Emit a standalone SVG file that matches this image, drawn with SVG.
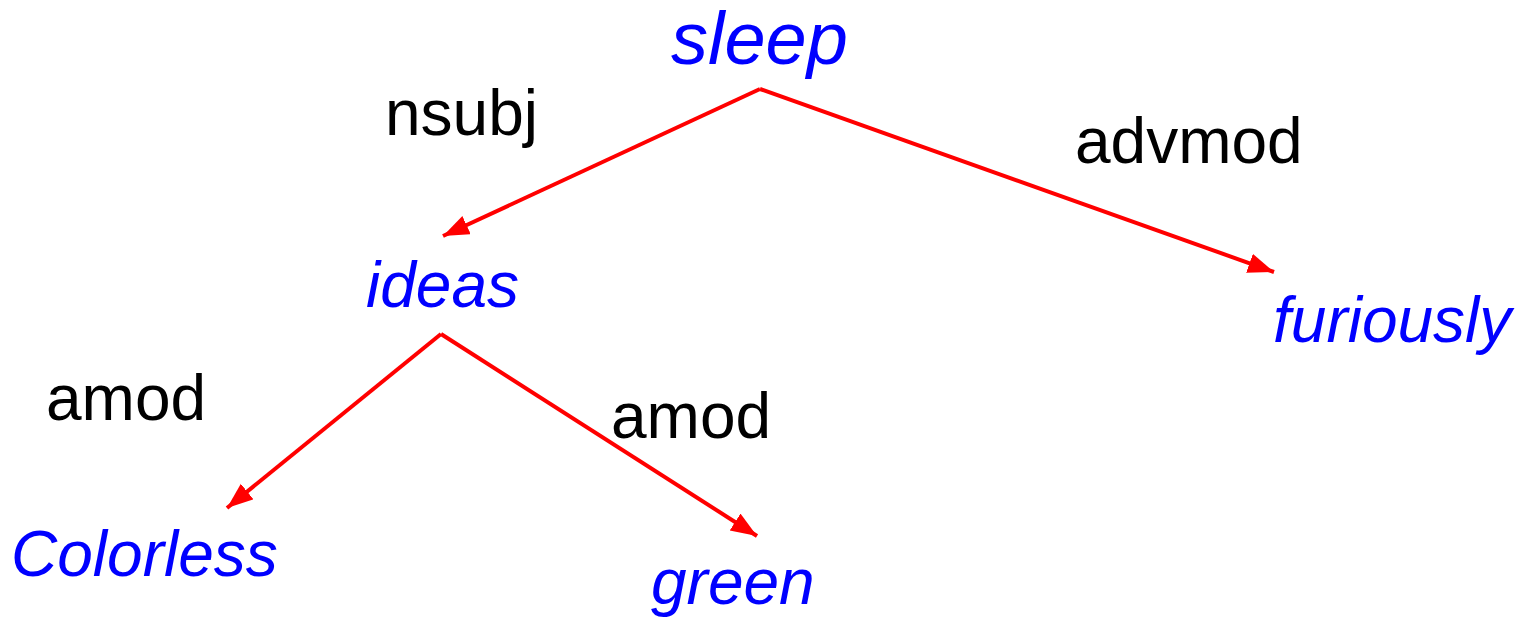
<svg xmlns="http://www.w3.org/2000/svg" width="1535" height="617" viewBox="0 0 1535 617">
  <style>
    .word { font-family: "Liberation Sans", Arial, sans-serif; font-style: italic; fill: #0000ff; font-size: 64px; }
    .rel { font-family: "Liberation Sans", Arial, sans-serif; fill: #000000; font-size: 64px; }
    .edge { stroke: #ff0000; stroke-width: 4; fill: none; marker-end: url(#arrow); }
  </style>
  <defs>
    <marker id="arrow" markerUnits="userSpaceOnUse" markerWidth="28" markerHeight="22" refX="26" refY="10" orient="auto">
      <path d="M0,0 L26,10 L0,20 Z" fill="#ff0000"/>
    </marker>
  </defs>
  <rect width="1535" height="617" fill="#ffffff"/>

  <g id="connectors">
    <line class="edge" x1="760" y1="89" x2="443" y2="236"/>
    <line class="edge" x1="760" y1="89" x2="1274" y2="272"/>
    <line class="edge" x1="441" y1="334" x2="227" y2="508"/>
    <line class="edge" x1="441" y1="334" x2="757" y2="536"/>
  </g>

  <g id="labels">
    <text class="rel" x="385" y="135">nsubj</text>
    <text class="rel" x="1075" y="163">advmod</text>
    <text class="rel" x="46" y="420">amod</text>
    <text class="rel" x="611" y="438">amod</text>
  </g>

  <g id="node-sleep"><text class="word" x="671" y="64" style="font-size:74px">sleep</text></g>
  <g id="node-ideas"><text class="word" x="366" y="307">ideas</text></g>
  <g id="node-furiously"><text class="word" x="1273" y="342">furiously</text></g>
  <g id="node-colorless"><text class="word" x="11" y="576">Colorless</text></g>
  <g id="node-green"><text class="word" x="651" y="604">green</text></g>
</svg>
